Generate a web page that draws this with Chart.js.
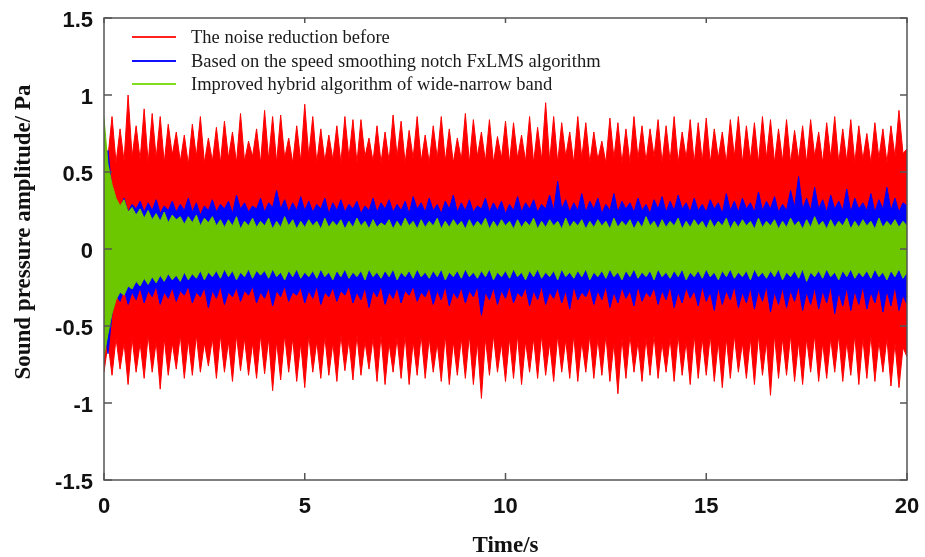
<!DOCTYPE html>
<html>
<head>
<meta charset="utf-8">
<script src="https://cdn.jsdelivr.net/npm/chart.js@4.4.1/dist/chart.umd.min.js"></script>
<style>
  html, body { margin: 0; padding: 0; background: #fff; }
</style>
</head>
<body>
<canvas id="myChart" width="925" height="557"></canvas>
<script>
// envelopes of the three signals, read every 0.1 s from t = 0 to t = 20
var dt = 0.1;
var seriesNames = [
    'The noise reduction before',
    'Based on the speed smoothing notch FxLMS algorithm',
    'Improved hybrid algorithm of wide-narrow band'
];
var xTicks = [0, 5, 10, 15, 20];
var yTicks = [-1.5, -1, -0.5, 0, 0.5, 1, 1.5];

var redHi = [
    0.72, 0.60, 0.86, 0.56, 0.78, 0.57, 1.00, 0.60, 0.80, 0.58,
    0.91, 0.56, 0.88, 0.59, 0.86, 0.56, 0.81, 0.61, 0.76, 0.57,
    0.74, 0.55, 0.81, 0.60, 0.86, 0.56, 0.72, 0.57, 0.79, 0.56,
    0.83, 0.59, 0.76, 0.56, 0.88, 0.57, 0.70, 0.60, 0.78, 0.56,
    0.90, 0.58, 0.86, 0.56, 0.87, 0.59, 0.72, 0.56, 0.80, 0.57,
    0.94, 0.60, 0.86, 0.56, 0.78, 0.57, 0.74, 0.58, 0.80, 0.56,
    0.86, 0.59, 0.84, 0.56, 0.84, 0.60, 0.72, 0.57, 0.80, 0.56,
    0.76, 0.57, 0.87, 0.60, 0.83, 0.56, 0.77, 0.59, 0.86, 0.57,
    0.74, 0.56, 0.80, 0.59, 0.86, 0.57, 0.78, 0.56, 0.72, 0.58,
    0.88, 0.56, 0.84, 0.60, 0.76, 0.57, 0.84, 0.56, 0.73, 0.59,
    0.83, 0.56, 0.82, 0.59, 0.74, 0.57, 0.86, 0.56, 0.79, 0.58,
    0.95, 0.57, 0.86, 0.56, 0.82, 0.60, 0.76, 0.56, 0.86, 0.59,
    0.82, 0.56, 0.76, 0.58, 0.70, 0.56, 0.85, 0.59, 0.82, 0.56,
    0.78, 0.56, 0.86, 0.59, 0.80, 0.57, 0.78, 0.60, 0.84, 0.56,
    0.80, 0.57, 0.86, 0.56, 0.76, 0.59, 0.84, 0.56, 0.82, 0.57,
    0.85, 0.56, 0.78, 0.59, 0.76, 0.56, 0.84, 0.60, 0.86, 0.56,
    0.80, 0.58, 0.82, 0.56, 0.86, 0.59, 0.84, 0.56, 0.78, 0.57,
    0.84, 0.56, 0.77, 0.58, 0.80, 0.56, 0.84, 0.60, 0.76, 0.56,
    0.82, 0.59, 0.86, 0.56, 0.78, 0.57, 0.84, 0.56, 0.80, 0.58,
    0.75, 0.56, 0.82, 0.59, 0.78, 0.56, 0.80, 0.60, 0.90, 0.62,
    0.65
];
var redLo = [
    -0.80, -0.61, -0.82, -0.58, -0.78, -0.61, -0.88, -0.58, -0.80, -0.61,
    -0.84, -0.56, -0.80, -0.60, -0.91, -0.58, -0.82, -0.61, -0.78, -0.56,
    -0.84, -0.59, -0.82, -0.56, -0.80, -0.61, -0.76, -0.58, -0.84, -0.56,
    -0.80, -0.60, -0.86, -0.56, -0.79, -0.58, -0.82, -0.61, -0.84, -0.56,
    -0.81, -0.58, -0.92, -0.60, -0.85, -0.56, -0.80, -0.58, -0.86, -0.61,
    -0.90, -0.56, -0.80, -0.60, -0.84, -0.57, -0.82, -0.61, -0.86, -0.56,
    -0.79, -0.59, -0.85, -0.56, -0.82, -0.60, -0.78, -0.58, -0.86, -0.56,
    -0.88, -0.61, -0.80, -0.58, -0.84, -0.56, -0.88, -0.60, -0.82, -0.56,
    -0.84, -0.58, -0.80, -0.61, -0.86, -0.56, -0.88, -0.60, -0.82, -0.58,
    -0.84, -0.56, -0.88, -0.60, -0.97, -0.58, -0.82, -0.56, -0.80, -0.61,
    -0.86, -0.58, -0.84, -0.56, -0.88, -0.60, -0.80, -0.58, -0.84, -0.56,
    -0.82, -0.61, -0.86, -0.56, -0.80, -0.59, -0.84, -0.56, -0.86, -0.60,
    -0.80, -0.56, -0.84, -0.58, -0.82, -0.56, -0.86, -0.61, -0.94, -0.58,
    -0.84, -0.56, -0.80, -0.60, -0.86, -0.58, -0.82, -0.56, -0.84, -0.61,
    -0.80, -0.58, -0.86, -0.56, -0.82, -0.60, -0.88, -0.56, -0.84, -0.58,
    -0.82, -0.56, -0.86, -0.60, -0.90, -0.58, -0.84, -0.56, -0.80, -0.61,
    -0.84, -0.58, -0.88, -0.56, -0.82, -0.60, -0.95, -0.56, -0.84, -0.58,
    -0.82, -0.56, -0.86, -0.60, -0.88, -0.58, -0.80, -0.56, -0.86, -0.61,
    -0.84, -0.58, -0.80, -0.56, -0.86, -0.60, -0.82, -0.56, -0.88, -0.58,
    -0.84, -0.56, -0.86, -0.60, -0.80, -0.58, -0.89, -0.61, -0.90, -0.64,
    -0.70
];
var blueHi = [
    0.50, 0.64, 0.38, 0.30, 0.26, 0.33, 0.24, 0.29, 0.26, 0.31,
    0.24, 0.30, 0.25, 0.32, 0.23, 0.28, 0.25, 0.31, 0.24, 0.29,
    0.25, 0.33, 0.24, 0.30, 0.22, 0.28, 0.25, 0.32, 0.24, 0.29,
    0.26, 0.31, 0.23, 0.35, 0.26, 0.30, 0.24, 0.28, 0.26, 0.33,
    0.24, 0.30, 0.27, 0.38, 0.26, 0.32, 0.24, 0.30, 0.25, 0.34,
    0.25, 0.31, 0.24, 0.29, 0.26, 0.33, 0.23, 0.30, 0.25, 0.32,
    0.24, 0.29, 0.26, 0.31, 0.23, 0.28, 0.25, 0.33, 0.24, 0.30,
    0.26, 0.32, 0.24, 0.29, 0.25, 0.31, 0.23, 0.34, 0.26, 0.30,
    0.24, 0.33, 0.25, 0.29, 0.23, 0.31, 0.26, 0.35, 0.24, 0.30,
    0.25, 0.32, 0.24, 0.28, 0.26, 0.33, 0.24, 0.30, 0.25, 0.31,
    0.23, 0.29, 0.25, 0.34, 0.24, 0.30, 0.26, 0.32, 0.24, 0.29,
    0.26, 0.35, 0.25, 0.44, 0.26, 0.32, 0.24, 0.30, 0.25, 0.36,
    0.24, 0.31, 0.26, 0.33, 0.23, 0.29, 0.25, 0.36, 0.24, 0.31,
    0.26, 0.30, 0.24, 0.33, 0.25, 0.29, 0.23, 0.32, 0.26, 0.34,
    0.24, 0.31, 0.25, 0.35, 0.26, 0.30, 0.24, 0.33, 0.25, 0.29,
    0.24, 0.32, 0.26, 0.30, 0.23, 0.36, 0.25, 0.31, 0.24, 0.33,
    0.26, 0.30, 0.24, 0.37, 0.25, 0.31, 0.26, 0.34, 0.24, 0.29,
    0.25, 0.38, 0.27, 0.47, 0.26, 0.33, 0.25, 0.40, 0.26, 0.32,
    0.24, 0.35, 0.26, 0.31, 0.25, 0.39, 0.24, 0.33, 0.26, 0.30,
    0.25, 0.36, 0.24, 0.32, 0.26, 0.40, 0.25, 0.33, 0.24, 0.30,
    0.28
];
var blueLo = [
    -0.50, -0.68, -0.42, -0.30, -0.34, -0.26, -0.36, -0.28, -0.33, -0.25,
    -0.35, -0.27, -0.31, -0.24, -0.36, -0.28, -0.32, -0.25, -0.34, -0.27,
    -0.30, -0.24, -0.35, -0.28, -0.31, -0.25, -0.38, -0.27, -0.32, -0.24,
    -0.36, -0.28, -0.31, -0.25, -0.34, -0.27, -0.30, -0.24, -0.35, -0.28,
    -0.32, -0.25, -0.37, -0.27, -0.31, -0.24, -0.34, -0.28, -0.30, -0.25,
    -0.35, -0.27, -0.32, -0.24, -0.36, -0.28, -0.31, -0.25, -0.34, -0.27,
    -0.30, -0.24, -0.35, -0.28, -0.33, -0.25, -0.38, -0.27, -0.31, -0.24,
    -0.36, -0.28, -0.32, -0.25, -0.35, -0.27, -0.30, -0.24, -0.34, -0.28,
    -0.31, -0.25, -0.36, -0.27, -0.33, -0.24, -0.37, -0.28, -0.32, -0.25,
    -0.35, -0.27, -0.31, -0.24, -0.43, -0.28, -0.33, -0.25, -0.36, -0.27,
    -0.32, -0.24, -0.35, -0.28, -0.31, -0.25, -0.37, -0.27, -0.33, -0.24,
    -0.36, -0.28, -0.32, -0.25, -0.35, -0.27, -0.39, -0.24, -0.33, -0.28,
    -0.31, -0.25, -0.36, -0.27, -0.33, -0.24, -0.38, -0.28, -0.35, -0.25,
    -0.32, -0.27, -0.37, -0.24, -0.34, -0.28, -0.31, -0.25, -0.36, -0.27,
    -0.33, -0.24, -0.38, -0.28, -0.35, -0.25, -0.32, -0.27, -0.37, -0.24,
    -0.34, -0.28, -0.40, -0.25, -0.36, -0.27, -0.33, -0.24, -0.38, -0.28,
    -0.35, -0.25, -0.39, -0.27, -0.34, -0.24, -0.41, -0.28, -0.36, -0.25,
    -0.38, -0.27, -0.34, -0.24, -0.40, -0.28, -0.36, -0.25, -0.39, -0.27,
    -0.35, -0.24, -0.42, -0.28, -0.37, -0.25, -0.40, -0.27, -0.36, -0.24,
    -0.39, -0.28, -0.35, -0.25, -0.41, -0.27, -0.37, -0.24, -0.40, -0.30,
    -0.36
];
var greenHi = [
    0.85, 0.55, 0.42, 0.33, 0.28, 0.32, 0.24, 0.27, 0.22, 0.26,
    0.20, 0.25, 0.19, 0.23, 0.18, 0.24, 0.17, 0.22, 0.19, 0.21,
    0.16, 0.21, 0.17, 0.22, 0.15, 0.20, 0.17, 0.21, 0.15, 0.19,
    0.14, 0.19, 0.15, 0.21, 0.13, 0.18, 0.15, 0.20, 0.14, 0.18,
    0.15, 0.20, 0.13, 0.18, 0.14, 0.21, 0.15, 0.19, 0.13, 0.18,
    0.14, 0.19, 0.15, 0.18, 0.13, 0.20, 0.14, 0.18, 0.15, 0.19,
    0.13, 0.18, 0.14, 0.20, 0.15, 0.18, 0.13, 0.19, 0.14, 0.17,
    0.15, 0.19, 0.13, 0.18, 0.14, 0.20, 0.15, 0.18, 0.13, 0.19,
    0.14, 0.18, 0.15, 0.20, 0.13, 0.18, 0.14, 0.19, 0.15, 0.18,
    0.13, 0.19, 0.14, 0.18, 0.15, 0.20, 0.13, 0.18, 0.14, 0.19,
    0.15, 0.18, 0.13, 0.19, 0.14, 0.18, 0.15, 0.20, 0.13, 0.18,
    0.14, 0.19, 0.15, 0.18, 0.13, 0.20, 0.14, 0.18, 0.15, 0.19,
    0.13, 0.18, 0.14, 0.19, 0.15, 0.18, 0.13, 0.20, 0.14, 0.18,
    0.15, 0.19, 0.13, 0.18, 0.14, 0.21, 0.15, 0.18, 0.13, 0.19,
    0.14, 0.18, 0.15, 0.20, 0.13, 0.18, 0.14, 0.19, 0.15, 0.18,
    0.13, 0.19, 0.14, 0.18, 0.15, 0.20, 0.13, 0.18, 0.14, 0.19,
    0.15, 0.18, 0.13, 0.20, 0.14, 0.18, 0.15, 0.19, 0.13, 0.18,
    0.14, 0.20, 0.15, 0.18, 0.13, 0.19, 0.14, 0.21, 0.15, 0.18,
    0.13, 0.19, 0.14, 0.18, 0.15, 0.20, 0.13, 0.18, 0.14, 0.19,
    0.15, 0.18, 0.13, 0.20, 0.14, 0.18, 0.15, 0.19, 0.14, 0.18,
    0.15
];
var greenLo = [
    -0.70, -0.55, -0.42, -0.33, -0.28, -0.30, -0.24, -0.26, -0.21, -0.24,
    -0.19, -0.23, -0.18, -0.22, -0.17, -0.21, -0.16, -0.20, -0.17, -0.21,
    -0.15, -0.20, -0.16, -0.19, -0.14, -0.20, -0.15, -0.18, -0.14, -0.19,
    -0.13, -0.18, -0.14, -0.20, -0.15, -0.18, -0.13, -0.19, -0.14, -0.17,
    -0.14, -0.19, -0.13, -0.18, -0.15, -0.20, -0.14, -0.18, -0.13, -0.19,
    -0.15, -0.18, -0.14, -0.19, -0.13, -0.18, -0.15, -0.20, -0.14, -0.18,
    -0.13, -0.19, -0.15, -0.18, -0.14, -0.20, -0.13, -0.18, -0.15, -0.19,
    -0.14, -0.18, -0.13, -0.20, -0.15, -0.18, -0.14, -0.19, -0.13, -0.18,
    -0.15, -0.19, -0.14, -0.18, -0.13, -0.20, -0.15, -0.18, -0.14, -0.19,
    -0.13, -0.18, -0.15, -0.19, -0.14, -0.18, -0.13, -0.20, -0.15, -0.18,
    -0.14, -0.19, -0.13, -0.18, -0.15, -0.20, -0.14, -0.18, -0.13, -0.19,
    -0.15, -0.18, -0.14, -0.20, -0.13, -0.18, -0.15, -0.19, -0.14, -0.18,
    -0.13, -0.20, -0.15, -0.18, -0.14, -0.19, -0.13, -0.18, -0.15, -0.20,
    -0.14, -0.18, -0.13, -0.19, -0.15, -0.18, -0.14, -0.20, -0.13, -0.18,
    -0.15, -0.19, -0.14, -0.18, -0.13, -0.20, -0.15, -0.18, -0.14, -0.19,
    -0.13, -0.18, -0.15, -0.20, -0.14, -0.18, -0.13, -0.19, -0.15, -0.18,
    -0.14, -0.20, -0.13, -0.18, -0.15, -0.19, -0.14, -0.18, -0.13, -0.20,
    -0.15, -0.18, -0.14, -0.19, -0.13, -0.21, -0.15, -0.18, -0.14, -0.19,
    -0.13, -0.18, -0.15, -0.20, -0.14, -0.18, -0.13, -0.19, -0.15, -0.18,
    -0.14, -0.19, -0.13, -0.18, -0.15, -0.20, -0.14, -0.18, -0.13, -0.19,
    -0.15
];

var colors = ['#ff0000', '#0000ff', '#6cc600'];
var legendColors = ['#ff2020', '#1010ff', '#80dd20'];

function toPoints(arr) {
    return arr.map(function (v, i) { return {x: Math.round(i * dt * 100) / 100, y: v}; });
}

function band(label, values, color, fill, order) {
    return {
        label: label,
        data: toPoints(values),
        borderColor: color,
        backgroundColor: color,
        borderWidth: 1,
        pointRadius: 0,
        tension: 0,
        fill: fill,
        order: order
    };
}

// no extra room for edge tick labels: the plot box is fixed
function noPad(s) {
    s.paddingTop = 0; s.paddingBottom = 0;
    s.paddingLeft = 0; s.paddingRight = 0;
}

// box with inward ticks, legend and axis titles
var frame = {
    id: 'frame',
    afterDatasetsDraw: function (chart) {
        var ctx = chart.ctx, a = chart.chartArea;
        var sx = chart.scales.x, sy = chart.scales.y;
        ctx.save();
        ctx.strokeStyle = '#555';
        ctx.lineWidth = 1.5;
        ctx.strokeRect(a.left, a.top, a.right - a.left, a.bottom - a.top);
        ctx.beginPath();
        xTicks.forEach(function (v) {
            var px = sx.getPixelForValue(v);
            ctx.moveTo(px, a.bottom); ctx.lineTo(px, a.bottom - 7);
            ctx.moveTo(px, a.top); ctx.lineTo(px, a.top + 5);
        });
        yTicks.forEach(function (v) {
            var py = sy.getPixelForValue(v);
            ctx.moveTo(a.left, py); ctx.lineTo(a.left + 8, py);
            ctx.moveTo(a.right, py); ctx.lineTo(a.right - 7, py);
        });
        ctx.stroke();

        // legend
        var rows = [37, 61, 84];
        ctx.font = '18.5px "Liberation Serif"';
        ctx.textAlign = 'left';
        ctx.textBaseline = 'middle';
        rows.forEach(function (y, i) {
            ctx.strokeStyle = legendColors[i];
            ctx.lineWidth = 2;
            ctx.beginPath();
            ctx.moveTo(132, y); ctx.lineTo(176, y);
            ctx.stroke();
            ctx.fillStyle = '#1a1a1a';
            ctx.fillText(seriesNames[i], 191, y + 1);
        });

        // axis titles
        ctx.fillStyle = '#111';
        ctx.font = 'bold 23px "Liberation Serif"';
        ctx.textAlign = 'center';
        ctx.fillText('Time/s', (a.left + a.right) / 2, 546);
        ctx.translate(24, 232);
        ctx.rotate(-Math.PI / 2);
        ctx.fillText('Sound pressure amplitude/ Pa', 0, 0);
        ctx.restore();
    }
};

var ctx = document.getElementById('myChart').getContext('2d');
var myChart = new Chart(ctx, {
    type: 'line',
    data: {
        datasets: [
            band(seriesNames[0], redHi, colors[0], '+1', 3),
            band(seriesNames[0], redLo, colors[0], false, 3),
            band(seriesNames[1], blueHi, colors[1], '+1', 2),
            band(seriesNames[1], blueLo, colors[1], false, 2),
            band(seriesNames[2], greenHi, colors[2], '+1', 1),
            band(seriesNames[2], greenLo, colors[2], false, 1)
        ]
    },
    options: {
        responsive: false,
        animation: false,
        devicePixelRatio: 1,
        layout: {
            padding: {top: 18, right: 18, left: 0, bottom: 0}
        },
        plugins: {
            legend: {display: false},
            tooltip: {enabled: false}
        },
        scales: {
            x: {
                type: 'linear',
                min: 0,
                max: 20,
                afterFit: function (s) { s.height = 77; noPad(s); },
                afterBuildTicks: function (s) { s.ticks = xTicks.map(function (v) { return {value: v}; }); },
                grid: {display: false, drawTicks: false},
                border: {display: false},
                ticks: {
                    color: '#111',
                    padding: 14,
                    maxRotation: 0,
                    font: {family: '"Liberation Sans"', size: 22, weight: 'bold'}
                }
            },
            y: {
                min: -1.5,
                max: 1.5,
                afterFit: function (s) { s.width = 104; noPad(s); },
                afterBuildTicks: function (s) { s.ticks = yTicks.map(function (v) { return {value: v}; }); },
                grid: {display: false, drawTicks: false},
                border: {display: false},
                ticks: {
                    color: '#111',
                    padding: 11,
                    labelOffset: 3,
                    callback: function (v) { return String(v); },
                    font: {family: '"Liberation Sans"', size: 22, weight: 'bold'}
                }
            }
        }
    },
    plugins: [frame]
});
</script>
</body>
</html>
